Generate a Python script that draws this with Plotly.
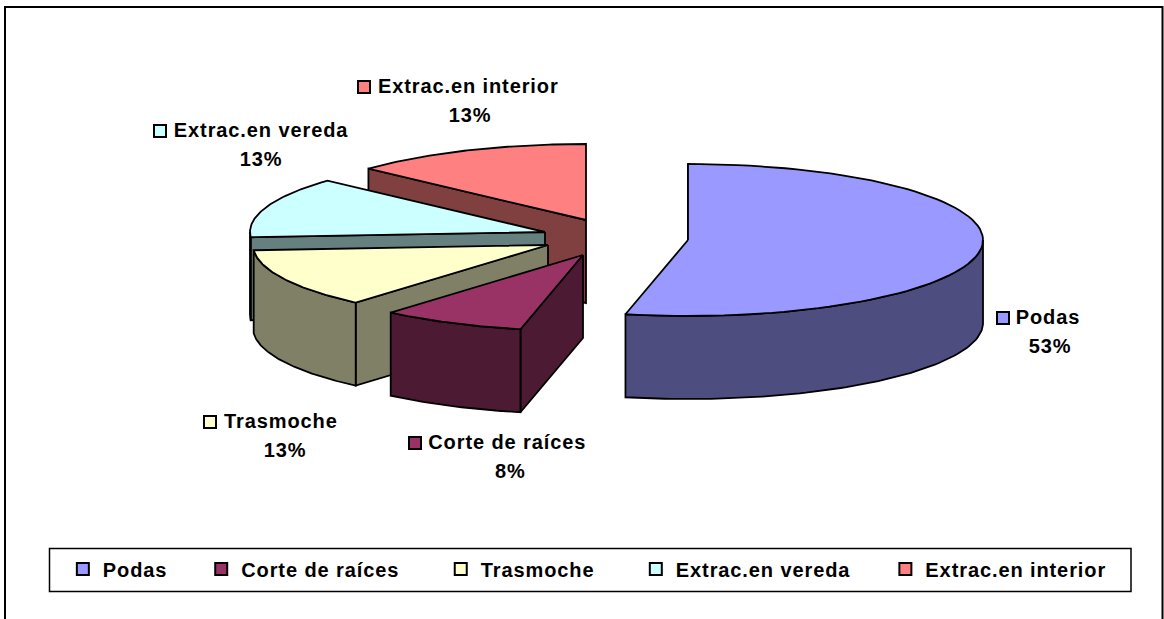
import math
import plotly.graph_objects as go

categories = ["Podas", "Corte de raíces", "Trasmoche", "Extrac.en vereda", "Extrac.en interior"]
values = [53.4, 7.9, 12.6, 12.9, 13.2]
face_colors = ["#9999FF", "#993366", "#FFFFCC", "#CCFFFF", "#FF8080"]
wall_colors = ["#4D4D80", "#4D1A33", "#808066", "#668080", "#804040"]
centers = [(688, 240), (583, 255), (548, 245), (545, 232), (586, 220)]
swatches = [(1003, 318), (415, 443), (210, 422), (160, 131), (364, 87)]
name_pos = [(1016, 317), (428, 442), (224, 421), (174, 130), (378, 86)]
pct_pos = [(1050, 346), (510, 471), (285, 450), (261, 159), (470, 115)]
legend_pad = [6, 9, 8, 8, 3]
RX, RY, DEPTH = 295, 76, 83
W, H = 1164, 619
FONT = "Liberation Sans, Arial, sans-serif"
SPACING = 0.9


def pt(c, a, dz=0):
    return c[0] + RX * math.sin(a), c[1] - RY * math.cos(a) + dz


def arc(c, a0, a1, dz=0, n=80):
    return [pt(c, a0 + (a1 - a0) * i / n, dz) for i in range(n + 1)]


def poly(points, color, lw=1.8):
    return go.Scatter(
        x=[p[0] for p in points] + [points[0][0]],
        y=[p[1] for p in points] + [points[0][1]],
        mode="lines", fill="toself", fillcolor=color,
        line=dict(color="black", width=lw), showlegend=False, hoverinfo="skip",
    )


total = sum(values)
spans = []
acc = 0
for v in values:
    spans.append((acc / total * 2 * math.pi, (acc + v) / total * 2 * math.pi))
    acc += v

fig = go.Figure()
for i in [4, 3, 2, 1, 0]:
    c = centers[i]
    a0, a1 = spans[i]
    s = pt(c, a0)
    fig.add_trace(poly([c, s, (s[0], s[1] + DEPTH), (c[0], c[1] + DEPTH)], wall_colors[i]))
    lo, hi = max(a0, math.pi / 2), min(a1, 3 * math.pi / 2)
    if hi > lo:
        fig.add_trace(poly(arc(c, lo, hi) + arc(c, hi, lo, DEPTH), wall_colors[i]))
    fig.add_trace(poly([c] + arc(c, a0, a1), face_colors[i]))

fig.add_trace(go.Scatter(
    x=[p[0] for p in swatches], y=[p[1] for p in swatches], mode="markers",
    marker=dict(symbol="square", size=12, color=face_colors, line=dict(color="black", width=2)),
    showlegend=False, hoverinfo="skip",
))

for name, col, pad in zip(categories, face_colors, legend_pad):
    fig.add_trace(go.Scatter(
        x=[None], y=[None], mode="markers", name=name + "\u00a0" * pad,
        marker=dict(symbol="square", size=12, color=col, line=dict(color="black", width=2)),
    ))

for i, name in enumerate(categories):
    fig.add_annotation(x=name_pos[i][0], y=name_pos[i][1], text=f"<b>{name}</b>", showarrow=False,
                       xanchor="left", yanchor="middle", xshift=-2 + len(name) * SPACING / 2,
                       font=dict(family=FONT, size=20, color="black"))
    fig.add_annotation(x=pct_pos[i][0], y=pct_pos[i][1], text=f"<b>{round(values[i])}%</b>", showarrow=False,
                       xanchor="center", yanchor="middle",
                       font=dict(family=FONT, size=20, color="black"))

fig.update_layout(
    width=W, height=H, autosize=False,
    margin=dict(l=0, r=0, t=0, b=0),
    paper_bgcolor="white", plot_bgcolor="white",
    xaxis=dict(range=[0, W], visible=False, fixedrange=True),
    yaxis=dict(range=[H, 0], visible=False, fixedrange=True),
    legend=dict(orientation="h", x=0.054, xanchor="left", y=0.0808, yanchor="middle",
                bgcolor="rgba(0,0,0,0)", itemclick=False, itemdoubleclick=False,
                font=dict(family=FONT, size=20, color="black", weight="bold")),
    shapes=[
        dict(type="rect", xref="x", yref="y", x0=5, y0=7, x1=1162.5, y1=630,
             line=dict(color="black", width=2), fillcolor="rgba(0,0,0,0)"),
        dict(type="rect", xref="x", yref="y", x0=49.5, y0=548.5, x1=1131, y1=591.5,
             line=dict(color="black", width=1.5), fillcolor="rgba(0,0,0,0)"),
    ],
)
post = f"""
document.body.style.margin = '0';
var st = document.createElement('style');
st.textContent = '.legendtext, .annotation-text {{ letter-spacing: {SPACING}px; }}';
document.head.appendChild(st);
"""
fig.write_html("out.html", config=dict(displayModeBar=False), post_script=post)
